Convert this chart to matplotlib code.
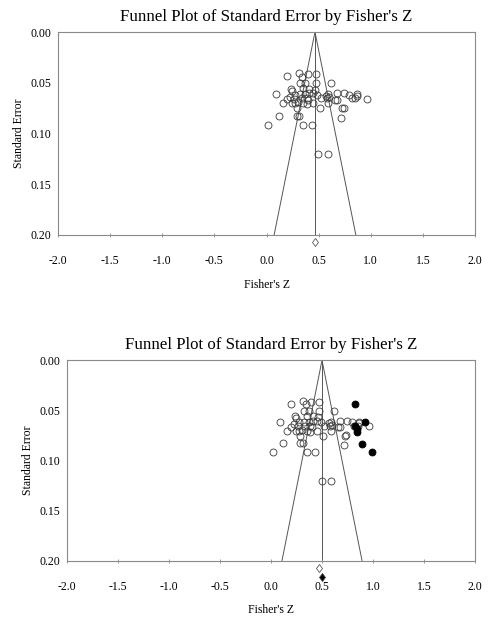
import numpy as np
import matplotlib
matplotlib.use("Agg")
import matplotlib.pyplot as plt

plt.rcParams["font.family"] = ["Liberation Serif", "DejaVu Serif"]
plt.rcParams["axes.unicode_minus"] = False

# observed studies (Fisher's Z, standard error)
obs_z = [0.193, 0.315, 0.344, 0.395, 0.472, 0.475, 0.321, 0.369, 0.615,
         0.235, 0.241, 0.353, 0.408, 0.465, 0.091, 0.193, 0.225, 0.273,
         0.321, 0.369, 0.408, 0.449, 0.487, 0.523, 0.568, 0.593, 0.673,
         0.746, 0.791, 0.817, 0.865, 0.865, 0.849, 0.961, 0.577, 0.600,
         0.385, 0.401, 0.337, 0.161, 0.241, 0.273, 0.305, 0.353, 0.385,
         0.449, 0.513, 0.289, 0.587, 0.721, 0.740, 0.715, 0.120, 0.289,
         0.312, 0.017, 0.353, 0.433, 0.498, 0.591, 0.660, 0.680, 0.265]
obs_se = [0.0433, 0.0407, 0.0440, 0.0417, 0.0417, 0.0506, 0.0506, 0.0506, 0.0506,
          0.0561, 0.0578, 0.0555, 0.0561, 0.0571, 0.0614, 0.0663, 0.0637, 0.0621,
          0.0614, 0.0614, 0.0604, 0.0604, 0.0621, 0.0653, 0.0627, 0.0614, 0.0604,
          0.0604, 0.0621, 0.0653, 0.0614, 0.0630, 0.0653, 0.0660, 0.0653, 0.0644,
          0.0653, 0.0670, 0.0653, 0.0703, 0.0703, 0.0703, 0.0693, 0.0703, 0.0713,
          0.0703, 0.0752, 0.0752, 0.0703, 0.0752, 0.0745, 0.0850, 0.0827, 0.0827,
          0.0827, 0.0916, 0.0916, 0.0916, 0.1205, 0.1205, 0.0670, 0.0670, 0.0660]

# trim-and-fill imputed studies
imp_z = [0.823, 0.924, 0.824, 0.840, 0.845, 0.893, 0.990]
imp_se = [0.0435, 0.0615, 0.0660, 0.0688, 0.0717, 0.0835, 0.0915]

mean_obs = 0.465
mean_adj = 0.500
diamond_obs = 0.47
diamond_adj = 0.497

xticks = [-2.0, -1.5, -1.0, -0.5, 0.0, 0.5, 1.0, 1.5, 2.0]
yticks = [0.00, 0.05, 0.10, 0.15, 0.20]
title = "Funnel Plot of Standard Error by Fisher's Z"

EDGE = "#3a3a3a"
LINE = "#555555"
SPINE = "#8a8a8a"


def draw_funnel(ax, mean, diamonds, filled=None):
    se_max = 0.2
    ax.plot([mean - 1.96 * se_max, mean, mean + 1.96 * se_max],
            [se_max, 0, se_max], color=LINE, lw=0.7, zorder=1)
    ax.plot([mean, mean], [0, se_max], color=LINE, lw=0.7, zorder=1)
    ax.plot(obs_z, obs_se, "o", ms=5, mfc="none", mec=EDGE, mew=0.6, zorder=2)
    if filled is not None:
        ax.plot(filled[0], filled[1], "o", ms=5, mfc="black", mec="black",
                mew=0.6, zorder=3)
    for x, y, fc in diamonds:
        ax.plot([x], [y], "d", ms=4.5, mfc=fc, mec=EDGE, mew=0.5,
                clip_on=False, zorder=3)

    ax.set_xlim(-2, 2)
    ax.set_ylim(0.2, 0)
    ax.set_xticks(xticks)
    ax.set_xticklabels([f"{t:.1f}" for t in xticks])
    ax.set_yticks(yticks)
    ax.set_yticklabels([f"{t:.2f}" for t in yticks])
    ax.tick_params(axis="x", direction="inout", length=3, width=0.6,
                   color=SPINE, pad=13, labelsize=8.5)
    ax.tick_params(axis="y", length=0, pad=5, labelsize=8.5)
    for s in ax.spines.values():
        s.set_color(SPINE)
        s.set_linewidth(0.8)
    ax.set_title(title, fontsize=12.2, pad=8)
    ax.set_xlabel("Fisher's Z", fontsize=8.5, labelpad=8.5)
    ax.set_ylabel("Standard Error", fontsize=8.5, labelpad=4)


fig = plt.figure(figsize=(4.89, 6.19), dpi=100)
ax1 = fig.add_axes([0.1186, 0.6204, 0.8528, 0.3279])
ax2 = fig.add_axes([0.1370, 0.0945, 0.8344, 0.3235])

draw_funnel(ax1, mean_obs, [(mean_obs, 0.207, "none")])
draw_funnel(ax2, mean_adj, [(diamond_obs, 0.207, "none"), (diamond_adj, 0.2165, "black")],
            filled=(imp_z, imp_se))

fig.savefig("out.png", dpi=100)
